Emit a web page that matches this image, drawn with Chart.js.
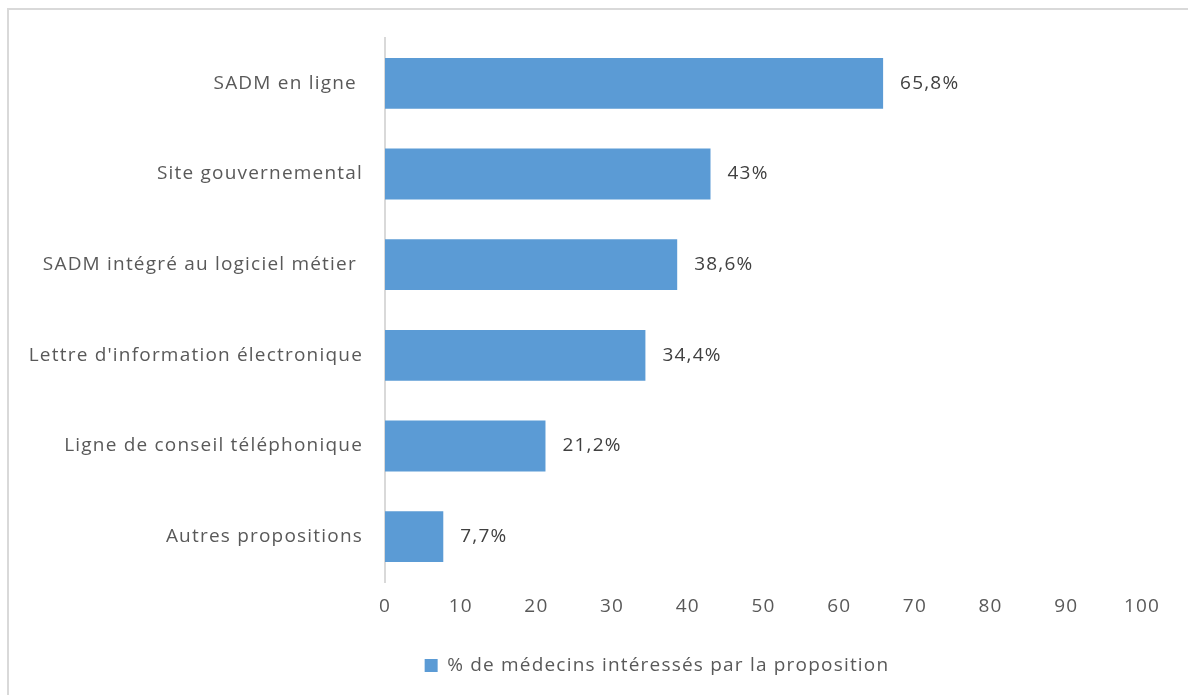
<!DOCTYPE html>
<html>
<head>
<meta charset="utf-8">
<script src="https://cdn.jsdelivr.net/npm/chart.js@4"></script>
<style>
    html, body { margin: 0; padding: 0; background: #ffffff; }
    #wrap { position: relative; width: 1188px; height: 695px; }
    #frame { position: absolute; left: 7px; top: 8px; width: 1200px; height: 700px;
             border-left: 2px solid #d9d9d9; border-top: 2px solid #d9d9d9; }
    canvas { position: absolute; left: 0; top: 0; }
</style>
</head>
<body>
<div id="wrap">
    <div id="frame"></div>
    <canvas id="chart" width="1188" height="695"></canvas>
</div>
<script>
// Propositions (top to bottom) and share of interested doctors
const categories = [
    'SADM en ligne ',
    'Site gouvernemental',
    'SADM intégré au logiciel métier ',
    "Lettre d'information électronique",
    'Ligne de conseil téléphonique',
    'Autres propositions'
];
const values = [65.8, 43, 38.6, 34.4, 21.2, 7.7];
const seriesName = '% de médecins intéressés par la proposition';
const xTicks = [0, 10, 20, 30, 40, 50, 60, 70, 80, 90, 100];

const fontFamily = '"Open Sans", "Noto Sans", sans-serif';
const fontSize = 19;
const spacing = '1.2px';
const barColor = '#5b9bd5';
const textColor = '#595959';
const legendShift = 81; // original legend sits right of the canvas centre

// wider letter spacing, closer to the original rendering
const letterSpacing = {
    id: 'letterSpacing',
    beforeUpdate(chart) { chart.ctx.letterSpacing = spacing; },
    beforeDraw(chart) { chart.ctx.letterSpacing = spacing; }
};

// move the legend sideways without touching the plot layout
const shiftLegend = {
    id: 'shiftLegend',
    afterUpdate(chart) {
        const legend = chart.legend;
        if (!legend || legend._shifted) return;
        const draw = legend.draw;
        legend.draw = function() {
            const ctx = chart.ctx;
            ctx.save();
            ctx.translate(legendShift, 0);
            draw.apply(this, arguments);
            ctx.restore();
        };
        legend._shifted = true;
    }
};

// value labels right of each bar, French decimal comma
const valueLabels = {
    id: 'valueLabels',
    afterDatasetsDraw(chart) {
        const ctx = chart.ctx;
        const meta = chart.getDatasetMeta(0);
        ctx.save();
        ctx.font = fontSize + 'px ' + fontFamily;
        ctx.fillStyle = '#404040';
        ctx.textBaseline = 'middle';
        ctx.textAlign = 'left';
        meta.data.forEach(function(bar, i) {
            const text = String(values[i]).replace('.', ',') + '%';
            ctx.fillText(text, bar.x + 17, bar.y);
        });
        ctx.restore();
    }
};

new Chart(document.getElementById('chart'), {
    type: 'bar',
    data: {
        labels: categories,
        datasets: [{
            label: seriesName,
            data: values,
            backgroundColor: barColor,
            borderWidth: 0,
            barPercentage: 0.56,
            categoryPercentage: 1
        }]
    },
    options: {
        indexAxis: 'y',
        responsive: false,
        animation: false,
        layout: { padding: { left: 10, right: 46, top: 38, bottom: 10 } },
        scales: {
            x: {
                min: 0,
                max: 100,
                afterBuildTicks(scale) {
                    scale.ticks = xTicks.map(v => ({ value: v }));
                },
                afterFit(scale) { scale.height = 64; },
                grid: { display: false, drawTicks: false },
                border: { display: false },
                ticks: {
                    padding: 13,
                    color: textColor,
                    font: { family: fontFamily, size: fontSize }
                }
            },
            y: {
                afterFit(scale) { scale.width = 375; },
                grid: { display: false, drawTicks: false },
                border: { display: true, color: '#d9d9d9', width: 2 },
                ticks: {
                    padding: 22,
                    color: textColor,
                    font: { family: fontFamily, size: fontSize }
                }
            }
        },
        plugins: {
            legend: {
                position: 'bottom',
                labels: {
                    boxWidth: 13,
                    boxHeight: 13,
                    padding: 10,
                    color: textColor,
                    font: { family: fontFamily, size: fontSize }
                }
            },
            tooltip: { enabled: false }
        }
    },
    plugins: [letterSpacing, shiftLegend, valueLabels]
});
</script>
</body>
</html>
